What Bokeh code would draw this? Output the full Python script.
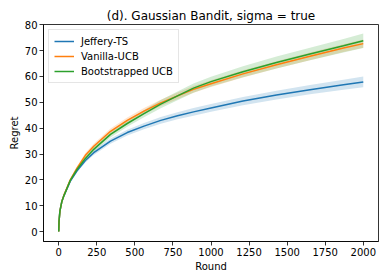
from bokeh.plotting import figure
from bokeh.models import Range1d, FixedTicker, Legend, LegendItem
from bokeh.embed import file_html
from bokeh.resources import INLINE

rounds = [0, 2, 8, 20, 35, 76, 120, 175, 230, 340, 450, 560, 670, 780, 885, 1000, 1210, 1430, 1650, 1870, 2000]

jeffery_ts = [0, 4, 8, 11.5, 14, 19.5, 23.5, 27.5, 30.5, 35, 38.3, 40.8, 43, 44.8, 46.3, 47.8, 50.5, 52.8, 54.9, 56.8, 57.9]
vanilla_ucb = [0, 4, 8, 11.5, 14.2, 20, 24.5, 29.5, 33, 38.8, 43, 46.6, 49.8, 52.5, 55, 57.2, 61, 64.5, 67.8, 71.0, 72.7]
boot_ucb = [0, 4, 8, 11.5, 14, 19.8, 24, 28.3, 31.8, 37.6, 41.8, 45.6, 49.3, 52.5, 55.5, 58, 61.8, 65.4, 68.7, 71.9, 73.8]

jeffery_ci = [0, 0.2, 0.3, 0.4, 0.5, 0.6, 0.7, 0.8, 0.9, 1.0, 1.1, 1.2, 1.3, 1.4, 1.5, 1.5, 1.6, 1.7, 1.8, 1.9, 2.1]
vanilla_ci = [0, 0.2, 0.3, 0.4, 0.5, 0.6, 0.8, 0.9, 1.0, 1.1, 1.1, 1.2, 1.2, 1.3, 1.3, 1.3, 1.4, 1.4, 1.5, 1.5, 1.6]
boot_ci = [0, 0.2, 0.3, 0.4, 0.5, 0.6, 0.8, 0.9, 1.0, 1.2, 1.3, 1.4, 1.6, 1.7, 1.8, 1.9, 2.1, 2.3, 2.4, 2.6, 2.8]

x_ticks = [0, 250, 500, 750, 1000, 1250, 1500, 1750, 2000]
y_ticks = [0, 10, 20, 30, 40, 50, 60, 70, 80]

series = [
    ("Jeffery-TS", jeffery_ts, jeffery_ci, "#1f77b4"),
    ("Vanilla-UCB", vanilla_ucb, vanilla_ci, "#ff7f0e"),
    ("Bootstrapped UCB", boot_ucb, boot_ci, "#2ca02c"),
]

FONT = "DejaVu Sans"

p = figure(frame_width=335, frame_height=217, output_backend="svg", toolbar_location=None,
           x_range=Range1d(-100, 2100), y_range=Range1d(-3.85, 80.1),
           title="(d). Gaussian Bandit, sigma = true",
           min_border_left=0, min_border_right=2, min_border_top=0, min_border_bottom=0)
p.margin = (5, 0, 0, 5)

p.title.text_font = FONT
p.title.text_font_size = "12px"
p.title.text_font_style = "normal"
p.title.align = "center"
p.title.text_color = "#000000"
p.title.standoff = 3
p.title.offset = 0

p.xgrid.visible = False
p.ygrid.visible = False
p.outline_line_color = "#000000"
p.outline_line_width = 0.8
p.outline_line_alpha = 1.0

items = []
for name, vals, ci, color in series:
    lo = [v - c for v, c in zip(vals, ci)]
    hi = [v + c for v, c in zip(vals, ci)]
    p.varea(x=rounds, y1=lo, y2=hi, fill_color=color, fill_alpha=0.2)
for name, vals, ci, color in series:
    r = p.line(rounds, vals, line_color=color, line_width=1.5)
    items.append(LegendItem(label=name, renderers=[r]))

for ax, ticks, lab in ((p.xaxis, x_ticks, "Round"), (p.yaxis, y_ticks, "Regret")):
    ax.ticker = FixedTicker(ticks=ticks)
    ax.axis_label = lab
    ax.axis_label_text_font = FONT
    ax.axis_label_text_font_size = "10px"
    ax.axis_label_text_font_style = "normal"
    ax.axis_label_text_color = "#000000"
    ax.axis_label_standoff = 2
    ax.major_label_text_font = FONT
    ax.major_label_text_font_size = "10px"
    ax.major_label_text_color = "#000000"
    ax.major_label_standoff = 2
    ax.major_tick_out = 4
    ax.major_tick_in = 0
    ax.minor_tick_out = 0
    ax.minor_tick_in = 0
    ax.axis_line_width = 0.8
    ax.major_tick_line_width = 0.8

legend = Legend(items=items, location="top_left")
legend.label_text_font = FONT
legend.label_text_font_size = "10px"
legend.label_text_color = "#000000"
legend.glyph_width = 20
legend.glyph_height = 12
legend.label_height = 12
legend.label_standoff = 7
legend.spacing = 3
legend.padding = 5
legend.margin = 5
legend.border_line_color = "#cccccc"
legend.border_line_width = 1
legend.background_fill_alpha = 0.8
p.add_layout(legend)

open("out.html", "w").write(file_html(p, INLINE))
